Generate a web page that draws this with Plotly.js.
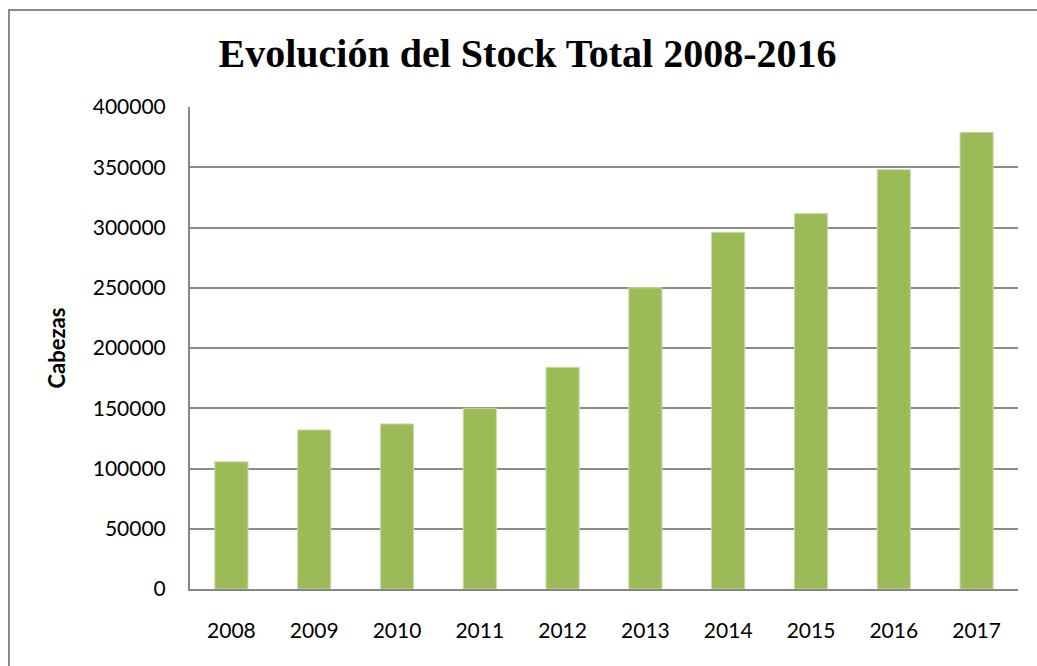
<!DOCTYPE html>
<html>
<head>
<meta charset="utf-8">
<script src="https://cdn.plot.ly/plotly-3.0.1.min.js"></script>
<style>html,body{margin:0;padding:0;background:#fff;}#chart{width:1037px;height:666px;}</style>
</head>
<body>
<div id="chart"></div>
<script>
const years = ['2008','2009','2010','2011','2012','2013','2014','2015','2016','2017'];
const stock = [105500, 132000, 137000, 150000, 184000, 250000, 296000, 311500, 348000, 379000];
const yTicks = [0, 50000, 100000, 150000, 200000, 250000, 300000, 350000, 400000];

const trace = {
  type: 'bar',
  x: years,
  y: stock,
  marker: {color: '#9BBB59', line: {color: '#c8dba5', width: 1}},
  hoverinfo: 'x+y'
};

const layout = {
  width: 1037,
  height: 666,
  margin: {l: 190, r: 19, t: 107, b: 77, pad: 0},
  paper_bgcolor: '#ffffff',
  plot_bgcolor: '#ffffff',
  bargap: 0.6,
  showlegend: false,
  title: {
    text: '<b>Evolución del Stock Total 2008-2016</b>',
    font: {family: '"Liberation Serif", "Times New Roman", serif', size: 40, color: '#000'},
    xref: 'container', x: 0.5087, xanchor: 'center',
    yref: 'container', y: 1 - 53/666, yanchor: 'middle'
  },
  xaxis: {
    type: 'category',
    showgrid: false,
    showline: true,
    linecolor: '#868686',
    linewidth: 2,
    ticks: '',
    ticklabelstandoff: 22,
    tickfont: {family: 'Lato, "Open Sans", sans-serif', size: 21, color: '#000'},
    zeroline: false
  },
  yaxis: {
    range: [0, 400000],
    tickvals: yTicks,
    ticktext: yTicks.map(String),
    showgrid: true,
    gridcolor: '#8c8c8c',
    gridwidth: 2,
    showline: true,
    linecolor: '#868686',
    linewidth: 2,
    ticks: '',
    ticklabelstandoff: 18,
    tickfont: {family: 'Lato, "Open Sans", sans-serif', size: 21, color: '#000'},
    zeroline: false,
    title: {
      text: '<b>Cabezas</b>',
      font: {family: 'Lato, "Open Sans", sans-serif', size: 22, color: '#000'},
      standoff: 21
    }
  },
  shapes: [{
    type: 'rect', xref: 'paper', yref: 'paper',
    x0: (9 - 190) / 828, x1: 1.2, y0: -0.3, y1: (589 - 10) / 482,
    line: {color: '#8a8a8a', width: 2}, fillcolor: 'rgba(0,0,0,0)', layer: 'above'
  }]
};

Plotly.newPlot('chart', [trace], layout, {staticPlot: true, displayModeBar: false});
</script>
</body>
</html>
